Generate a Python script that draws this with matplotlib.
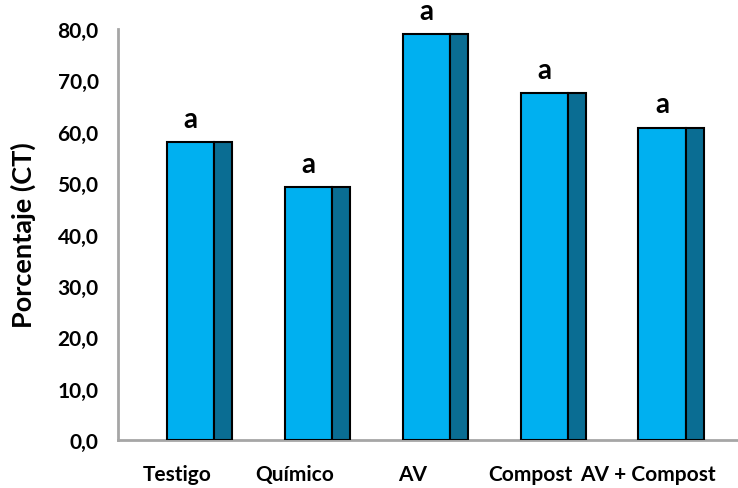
import numpy as np
import matplotlib.pyplot as plt
from matplotlib.ticker import FuncFormatter

# treatments and measured percentage
tratamientos = ['Testigo', 'Químico', 'AV', 'Compost', 'AV + Compost']
porcentaje = [58.0, 49.2, 79.0, 67.5, 60.8]
letras = ['a', 'a', 'a', 'a', 'a']

fuente = ['Lato', 'DejaVu Sans']
frente = '#00B0F0'
lado = '#0A6D93'

fig = plt.figure(figsize=(7.38, 4.89), dpi=100)
ax = fig.add_axes([118 / 738, 48 / 489, 620 / 738, 411 / 489])

x = np.arange(len(tratamientos))
# front face and darker side face of each column
ax.bar(x - 0.085, porcentaje, width=0.40, align='edge', color=frente,
       edgecolor='black', linewidth=1.5, zorder=3)
ax.bar(x + 0.315, porcentaje, width=0.155, align='edge', color=lado,
       edgecolor='black', linewidth=1.5, zorder=3)

for xi, v, l in zip(x, porcentaje, letras):
    ax.text(xi + 0.115, v + 3.0, l, ha='center', va='baseline',
            family=fuente, fontweight='bold', fontsize=20)

ax.set_xlim(-0.5, 4.76)
ax.set_ylim(0, 80)
ax.set_yticks(np.arange(0, 81, 10))
ax.yaxis.set_major_formatter(FuncFormatter(lambda v, p: f'{v:.1f}'.replace('.', ',')))
ax.set_xticks(x)
ax.set_xticklabels(tratamientos)

for lab in ax.get_yticklabels() + ax.get_xticklabels():
    lab.set_family(fuente)
    lab.set_fontweight('bold')
    lab.set_fontsize(15)

ax.tick_params(axis='y', length=0, pad=14)
ax.tick_params(axis='x', length=0, pad=17)

for s in ['top', 'right']:
    ax.spines[s].set_visible(False)
for s in ['left', 'bottom']:
    ax.spines[s].set_color('#A6A6A6')
    ax.spines[s].set_linewidth(2)

ax.set_ylabel('Porcentaje (CT)', family=fuente, fontweight='bold', fontsize=19.5)
ax.yaxis.set_label_coords(-0.132, 0.5)

fig.savefig('out.png', dpi=100)
